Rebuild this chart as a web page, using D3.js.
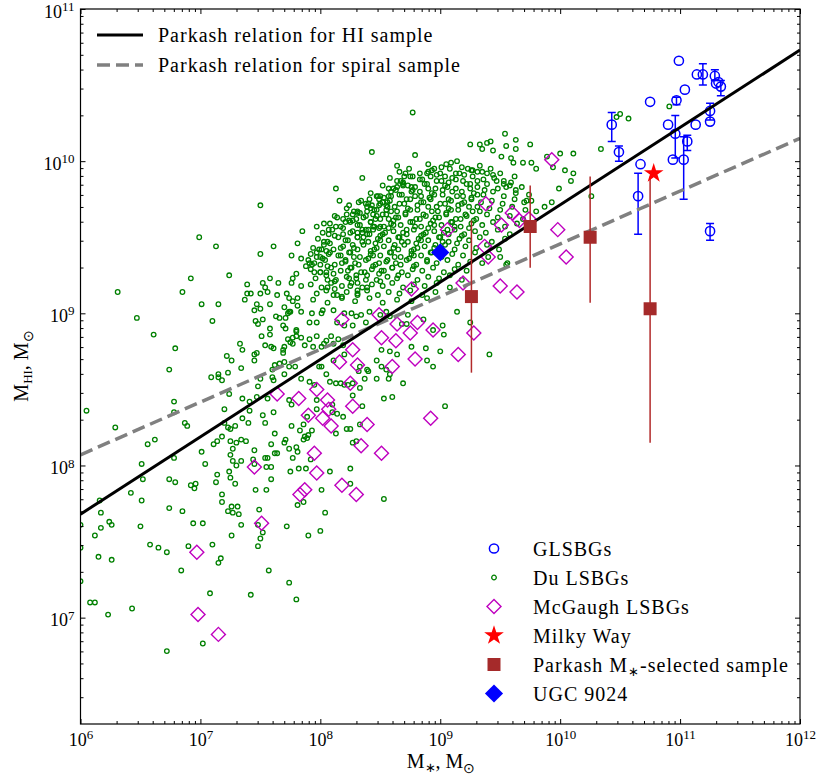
<!DOCTYPE html>
<html>
<head>
<meta charset="utf-8">
<script src="https://cdn.jsdelivr.net/npm/d3@7"></script>
<style>
  body { margin: 0; background: #fff; }
  svg text { font-family: "Liberation Serif", "Times New Roman", serif; fill: #000; }
</style>
</head>
<body>
<div id="chart"></div>
<script>
// values are log10(M*/Msun), log10(MHI/Msun)
const duLSBGs = [
  [6.99,9.50],[7.13,9.44],[7.61,9.44],[7.50,9.39],[7.76,9.38],[7.81,9.46],[7.24,9.25],[6.92,9.23],[6.31,9.14],[6.85,9.14],
  [7.01,9.06],[7.15,9.06],[6.47,8.97],[7.10,8.95],[6.61,8.86],[6.79,8.77],[6.74,8.63],[6.05,8.36],[6.78,8.42],[6.78,8.35],
  [6.29,8.25],[6.87,8.28],[6.89,8.26],[6.56,8.14],[6.62,8.17],[7.01,8.09],
  [7.39,9.19],[7.52,9.20],[7.54,9.17],[7.58,9.23],[7.65,9.20],[7.77,9.23],[7.80,9.26],[7.76,9.20],[7.39,9.13],[7.42,9.13],
  [7.37,9.09],[7.50,9.13],[7.56,9.14],[7.64,9.12],[7.72,9.13],[7.74,9.10],[7.81,9.10],[7.77,9.08],[7.47,9.06],[7.45,9.02],
  [7.50,9.03],[7.58,9.06],[7.70,9.04],[7.74,9.01],[7.81,9.05],[7.63,8.98],[7.66,8.97],[7.71,8.97],[7.73,9.00],[7.46,8.95],
  [7.52,8.96],[7.48,8.93],[7.58,8.90],[7.58,8.86],[7.51,8.85],[7.69,8.92],[7.71,8.90],[7.80,8.88],[7.80,8.85],[7.77,8.80],
  [7.73,8.83],[7.75,8.81],[7.54,8.79],[7.59,8.78],[7.61,8.77],[7.33,8.80],[7.35,8.76],[7.22,8.72],[7.26,8.69],[7.45,8.73],
  [7.47,8.74],[7.45,8.69],[7.69,8.76],[7.69,8.74],[7.70,8.78],[7.34,8.64],[7.23,8.61],[7.15,8.60],[7.09,8.58],[7.18,8.56],
  [7.15,8.58],[7.60,8.63],[7.62,8.66],[7.66,8.67],[7.70,8.68],[7.60,8.58],[7.70,8.60],[7.74,8.65],[7.79,8.65],[7.50,8.57],
  [7.48,8.52],[7.61,8.56],[7.24,8.47],[7.35,8.44],[7.41,8.42],[7.47,8.45],[7.56,8.44],[7.61,8.35],[7.52,8.33],[7.54,8.28],
  [7.74,8.43],[7.76,8.40],[7.41,8.36],[7.35,8.31],[7.40,8.28],[7.20,8.37],[7.20,8.28],[7.23,8.25],[7.29,8.26],[7.25,8.24],
  [7.76,8.26],[7.83,8.23],[7.62,8.21],[7.71,8.17],[7.70,8.15],[7.59,8.14],[7.62,8.08],[7.64,8.08],[7.18,8.19],[7.14,8.16],
  [7.11,8.14],[7.25,8.16],[7.30,8.15],[7.34,8.17],[7.38,8.16],[7.27,8.11],[7.25,8.07],[7.45,8.10],[7.54,8.05],[7.74,8.11],
  [7.80,8.12],[7.81,8.09],[7.77,8.05],
  [7.27,8.03],[7.34,8.03],[7.30,8.00],[7.44,8.04],[7.45,8.01],[7.55,7.99],[7.59,7.99],[7.56,8.05],[7.92,8.04],[7.75,7.96],
  [7.82,7.98],[7.88,7.98],[8.08,7.96],[6.51,8.01],[6.78,8.05],[7.04,8.01],[7.14,7.94],[7.24,7.96],[7.25,7.92],[7.13,7.89],
  [7.29,7.88],[6.74,7.91],[6.79,7.89],[6.52,7.91],[6.92,7.87],[6.96,7.88],[6.95,7.85],[6.42,7.82],[6.51,7.77],[6.16,7.77],
  [7.18,7.81],[7.18,7.76],[7.46,7.84],[7.55,7.84],[7.59,7.91],[8.01,7.84],[7.86,7.76],[7.81,7.74],[6.74,7.72],[6.85,7.70],
  [6.17,7.69],[6.24,7.63],[6.26,7.61],[6.00,7.61],[6.17,7.59],[6.12,7.54],[6.50,7.60],[6.94,7.62],[7.02,7.62],[7.26,7.73],
  [7.31,7.73],[7.23,7.70],[7.27,7.69],[7.32,7.68],[7.34,7.61],[7.49,7.71],[7.48,7.61],[8.04,7.69],[8.00,7.57],[7.90,7.54],
  [7.72,7.60],[7.26,7.54],[7.52,7.56],[7.50,7.52],[7.48,7.47],[6.58,7.48],[6.65,7.46],[6.72,7.43],[6.90,7.47],[7.10,7.48],
  [6.15,7.40],[6.26,7.38],[7.17,7.39],[7.15,7.36],[6.84,7.31],[6.00,7.24],[7.57,7.31],[6.08,7.10],[6.12,7.10],[6.23,7.02],
  [6.43,7.06],[7.08,7.16],[7.42,7.15],[7.74,7.23],[7.80,7.12],[7.02,6.83],[6.72,6.78],[6.00,7.46],
  [8.43,10.06],[8.35,9.89],[8.13,9.82],[7.50,9.71],[8.16,9.74],[8.24,9.71],[8.34,9.74],[8.40,9.72],[8.48,9.77],[8.49,9.75],
  [8.49,9.71],[8.57,9.77],[8.12,9.64],[8.27,9.65],[8.31,9.66],[8.21,9.60],[8.27,9.61],[8.39,9.67],[8.42,9.69],[8.44,9.65],
  [8.47,9.64],[8.55,9.68],[8.57,9.62],[8.53,9.57],[8.49,9.56],[8.44,9.57],[8.40,9.55],[8.35,9.55],[8.31,9.53],[8.36,9.50],
  [8.41,9.52],[7.85,9.54],[7.97,9.57],[8.03,9.59],[8.07,9.55],[7.84,9.36],[7.97,9.40],[8.01,9.42],[8.07,9.39],[7.90,9.35],
  [7.91,9.33],[7.88,9.31],[7.93,9.32],[8.00,9.27],[7.95,9.27],[7.84,9.18],
  [9.54,10.18],[9.63,10.14],[9.75,10.11],[9.25,10.11],[9.33,10.11],[9.39,10.12],[9.42,10.13],[9.35,10.08],[9.44,10.07],[9.55,10.10],
  [9.63,10.08],[9.51,10.03],[9.59,10.02],[9.61,9.99],[9.69,9.99],[9.76,9.99],[9.80,9.95],[9.89,10.03],[10.00,10.05],[10.11,10.05],
  [9.94,9.96],[10.04,9.94],[10.11,9.92],[10.09,9.87],[9.99,9.82],[9.93,9.73],[9.87,9.70],[9.80,9.67],[9.76,9.74],[9.72,9.74],
  [9.63,9.81],[9.55,9.83],[9.59,9.86],[9.53,9.85],[9.47,9.87],[9.44,9.91],[9.39,9.92],[9.33,9.97],[9.27,9.94],[9.23,9.95],
  [9.18,9.96],[9.14,10.00],[9.09,9.99],[9.05,9.98],[9.01,9.96],[8.95,9.95],[8.90,9.98],[8.89,9.92],[8.79,10.04],[8.64,9.97],
  [8.70,9.90],[8.73,9.84],[8.77,9.81],[8.69,9.84],[8.64,9.83],[8.59,9.77],[8.55,9.71],[8.52,9.73],
  [8.66,9.93],[8.74,9.95],[8.83,9.92],[8.93,9.94],[9.00,9.92],[9.08,9.95],[9.16,9.92],[9.26,9.94],[9.35,9.93],[9.42,9.95],[9.50,9.92],
  [8.58,9.89],[8.67,9.87],[8.75,9.90],[8.85,9.88],[8.92,9.90],[9.01,9.87],[9.10,9.89],[9.19,9.87],[9.27,9.90],[9.36,9.88],[9.45,9.89],[9.53,9.87],[9.62,9.90],
  [8.52,9.84],[8.61,9.82],[8.69,9.85],[8.79,9.83],[8.87,9.85],[8.96,9.82],[9.04,9.84],[9.13,9.82],[9.22,9.85],[9.31,9.83],[9.39,9.85],[9.48,9.82],[9.58,9.84],[9.68,9.83],
  [8.42,9.79],[8.50,9.77],[8.59,9.80],[8.68,9.78],[8.76,9.80],[8.84,9.77],[8.93,9.79],[9.02,9.78],[9.10,9.80],[9.19,9.77],[9.28,9.79],[9.36,9.78],[9.44,9.80],[9.53,9.77],[9.63,9.79],[9.74,9.78],
  [8.32,9.73],[8.41,9.75],[8.50,9.72],[8.58,9.74],[8.66,9.72],[8.75,9.75],[8.84,9.73],[8.92,9.75],[9.00,9.72],[9.09,9.74],[9.18,9.72],[9.26,9.75],[9.34,9.73],[9.43,9.74],[9.52,9.72],[9.62,9.75],[9.70,9.73],
  [8.22,9.69],[8.31,9.67],[8.39,9.70],[8.47,9.68],[8.56,9.70],[8.64,9.67],[8.73,9.69],[8.81,9.68],[8.90,9.70],[8.98,9.67],[9.07,9.69],[9.15,9.68],[9.24,9.70],[9.33,9.67],[9.41,9.69],[9.50,9.68],[9.60,9.70],[9.71,9.68],
  [8.14,9.63],[8.22,9.65],[8.30,9.62],[8.38,9.64],[8.46,9.62],[8.55,9.65],[8.63,9.63],[8.71,9.65],[8.80,9.62],[8.88,9.64],[8.96,9.63],[9.05,9.65],[9.13,9.62],[9.22,9.64],[9.30,9.62],[9.39,9.65],[9.48,9.63],[9.58,9.64],[9.69,9.62],
  [8.08,9.59],[8.17,9.57],[8.25,9.60],[8.33,9.58],[8.42,9.60],[8.50,9.57],[8.59,9.59],[8.67,9.58],[8.75,9.60],[8.84,9.57],[8.92,9.59],[9.01,9.58],[9.09,9.60],[9.17,9.57],[9.26,9.59],[9.35,9.58],[9.44,9.60],[9.54,9.57],[9.64,9.59],
  [8.02,9.53],[8.10,9.55],[8.19,9.52],[8.27,9.54],[8.35,9.53],[8.44,9.55],[8.52,9.52],[8.61,9.54],[8.69,9.53],[8.78,9.55],[8.86,9.52],[8.95,9.54],[9.03,9.53],[9.12,9.55],[9.20,9.52],[9.29,9.54],[9.38,9.53],[9.48,9.55],[9.58,9.52],
  [7.98,9.49],[8.06,9.47],[8.15,9.50],[8.23,9.48],[8.31,9.50],[8.40,9.47],[8.48,9.49],[8.57,9.48],[8.65,9.50],[8.73,9.47],[8.82,9.49],[8.90,9.48],[8.99,9.50],[9.07,9.47],[9.16,9.49],[9.24,9.48],[9.33,9.50],[9.43,9.47],[9.54,9.49],
  [7.94,9.43],[8.03,9.45],[8.11,9.42],[8.19,9.44],[8.28,9.43],[8.36,9.45],[8.45,9.42],[8.53,9.44],[8.61,9.43],[8.70,9.45],[8.78,9.42],[8.87,9.44],[8.95,9.43],[9.04,9.45],[9.12,9.42],[9.21,9.44],[9.30,9.43],[9.39,9.45],[9.49,9.42],
  [7.92,9.39],[8.00,9.37],[8.08,9.40],[8.17,9.38],[8.25,9.40],[8.33,9.37],[8.42,9.39],[8.50,9.38],[8.59,9.40],[8.67,9.37],[8.76,9.39],[8.84,9.38],[8.93,9.40],[9.01,9.37],[9.10,9.39],[9.19,9.38],[9.29,9.40],[9.40,9.37],
  [7.95,9.33],[8.04,9.35],[8.12,9.32],[8.21,9.34],[8.29,9.33],[8.38,9.35],[8.46,9.32],[8.55,9.34],[8.63,9.33],[8.72,9.35],[8.80,9.32],[8.89,9.34],[8.97,9.33],[9.06,9.35],[9.15,9.32],[9.25,9.34],[9.35,9.33],
  [7.92,9.29],[8.00,9.27],[8.09,9.30],[8.17,9.28],[8.26,9.30],[8.34,9.27],[8.43,9.29],[8.51,9.28],[8.60,9.30],[8.68,9.27],[8.77,9.29],[8.85,9.28],[8.94,9.30],[9.03,9.27],[9.12,9.29],[9.22,9.28],
  [7.96,9.23],[8.05,9.25],[8.13,9.22],[8.22,9.24],[8.30,9.23],[8.39,9.25],[8.47,9.22],[8.56,9.24],[8.64,9.23],[8.73,9.25],[8.81,9.22],[8.90,9.24],[8.99,9.23],[9.08,9.25],[9.18,9.22],
  [7.92,9.19],[8.01,9.17],[8.09,9.20],[8.18,9.18],[8.26,9.20],[8.35,9.17],[8.43,9.19],[8.52,9.18],[8.60,9.20],[8.69,9.17],[8.78,9.19],[8.87,9.18],[8.97,9.20],[9.08,9.17],
  [7.97,9.13],[8.05,9.15],[8.14,9.12],[8.22,9.14],[8.31,9.13],[8.39,9.15],[8.48,9.12],[8.57,9.14],[8.66,9.13],[8.75,9.15],[8.85,9.12],[8.96,9.14],
  [7.94,9.09],[8.06,9.07],[8.18,9.10],[8.29,9.08],[8.41,9.10],[8.52,9.07],[8.64,9.09],[8.76,9.08],[8.89,9.10],
  [8.71,9.92],[8.77,9.90],[8.90,9.93],[8.97,9.91],[9.04,9.90],[9.13,9.92],[9.20,9.91],[9.31,9.93],
  [8.64,9.87],[8.69,9.86],[8.83,9.88],[8.89,9.85],[8.97,9.87],[9.07,9.86],[9.13,9.88],[9.25,9.85],[9.31,9.87],
  [8.57,9.82],[8.63,9.81],[8.76,9.83],[8.83,9.80],[8.90,9.82],[9.02,9.81],[9.06,9.83],[9.18,9.80],[9.25,9.82],[9.37,9.81],
  [8.47,9.77],[8.53,9.76],[8.66,9.78],[8.72,9.75],[8.79,9.77],[8.91,9.76],[8.95,9.78],[9.07,9.75],[9.14,9.77],[9.26,9.76],[9.31,9.78],
  [8.38,9.72],[8.43,9.71],[8.56,9.73],[8.62,9.70],[8.70,9.72],[8.81,9.71],[8.86,9.73],[8.97,9.70],[9.04,9.72],[9.15,9.71],[9.20,9.73],[9.31,9.70],
  [8.28,9.67],[8.33,9.66],[8.45,9.68],[8.52,9.65],[8.59,9.67],[8.71,9.66],[8.75,9.68],[8.86,9.65],[8.93,9.67],[9.05,9.66],[9.09,9.68],[9.21,9.65],[9.27,9.67],
  [8.19,9.62],[8.24,9.61],[8.36,9.63],[8.42,9.60],[8.50,9.62],[8.61,9.61],[8.65,9.63],[8.77,9.60],[8.83,9.62],[8.94,9.61],[8.99,9.63],[9.10,9.60],[9.17,9.62],[9.28,9.61],
  [8.13,9.57],[8.19,9.56],[8.31,9.58],[8.38,9.55],[8.45,9.57],[8.57,9.56],[8.61,9.58],[8.72,9.55],[8.79,9.57],[8.90,9.56],[8.95,9.58],[9.06,9.55],[9.12,9.57],[9.24,9.56],
  [8.07,9.52],[8.12,9.51],[8.25,9.53],[8.31,9.50],[8.39,9.52],[8.50,9.51],[8.54,9.53],[8.66,9.50],[8.72,9.52],[8.84,9.51],[8.88,9.53],[9.00,9.50],[9.07,9.52],[9.18,9.51],
  [8.03,9.47],[8.08,9.46],[8.21,9.48],[8.27,9.45],[8.35,9.47],[8.46,9.46],[8.50,9.48],[8.62,9.45],[8.68,9.47],[8.80,9.46],[8.84,9.48],[8.96,9.45],[9.02,9.47],[9.14,9.46],
  [7.99,9.42],[8.05,9.41],[8.17,9.43],[8.24,9.40],[8.31,9.42],[8.42,9.41],[8.47,9.43],[8.58,9.40],[8.65,9.42],[8.76,9.41],[8.81,9.43],[8.92,9.40],[8.99,9.42],
  [7.97,9.37],[8.02,9.36],[8.15,9.38],[8.21,9.35],[8.28,9.37],[8.40,9.36],[8.44,9.38],[8.56,9.35],[8.62,9.37],[8.74,9.36],[8.78,9.38],[8.89,9.35],
  [8.00,9.32],[8.06,9.31],[8.18,9.33],[8.25,9.30],[8.32,9.32],[8.44,9.31],[8.49,9.33],[8.60,9.30],[8.67,9.32],[8.78,9.31],
  [8.05,9.27],[8.11,9.26],[8.23,9.28],[8.30,9.25],[8.37,9.27],[8.49,9.26],[8.53,9.28],[8.65,9.25],
  [8.06,9.22],[8.12,9.21],[8.24,9.23],[8.31,9.20],[8.38,9.22],[8.50,9.21],
  [8.06,9.17],[8.12,9.16],[8.25,9.18],[8.31,9.15],[8.39,9.17],
  [8.11,9.12],[8.18,9.11],[8.31,9.12],
  [7.75,9.01],[7.84,9.01],[7.93,9.00],[8.01,9.00],[8.02,9.02],[8.11,9.02],[8.20,9.00],[8.26,9.00],[8.30,8.98],[8.34,8.99],
  [8.41,9.01],[8.55,9.01],[8.50,8.99],[8.58,8.98],[7.91,8.94],[7.97,8.94],[8.14,8.94],[8.20,8.92],[8.27,8.92],[8.38,8.94],
  [7.80,8.89],[7.77,8.84],[7.84,8.84],[7.91,8.83],[7.97,8.85],[8.05,8.82],[8.09,8.85],[8.15,8.83],
  [8.03,8.80],[8.11,8.80],[8.19,8.79],[8.01,8.78],[7.94,8.78],[7.87,8.79],
  [9.02,8.92],[9.03,8.86],[8.94,8.89],[8.86,8.96],[8.73,8.99],[8.68,8.93],[8.72,8.93],[9.14,9.01],[9.25,8.94],
  [8.51,8.76],[8.58,8.75],[8.64,8.73],[8.76,8.78],[8.88,8.77],[9.00,8.75],[8.89,8.69],[8.94,8.65],[9.41,8.73],[8.47,8.69],
  [8.51,8.65],[8.55,8.63],[8.39,8.63],[8.40,8.62],[8.37,8.57],[8.47,8.57],[8.57,8.57],[8.58,8.60],[8.33,8.65],[8.32,8.62],
  [8.20,8.73],[8.11,8.69],[8.01,8.65],[7.99,8.65],[8.05,8.60],[8.08,8.55],[8.13,8.54],[8.17,8.54],[8.20,8.53],[8.23,8.53],
  [8.27,8.54],[8.33,8.51],[7.91,8.55],[7.84,8.57],[7.95,8.53],[8.27,8.46],[8.35,8.39],[8.33,8.27],[8.27,8.15],[8.30,8.16],
  [8.53,8.44],[8.60,8.45],[8.69,8.54],[9.04,8.39],[8.25,8.24],[8.13,8.21],[8.22,8.24],[8.19,8.32],[8.14,8.34],[8.10,8.35],
  [8.10,8.40],[7.97,8.43],[7.97,8.37],[7.89,8.32],[7.86,8.27],[7.87,8.19],[7.89,8.18],[7.90,8.20],[7.86,8.17],[7.93,8.23],
  [8.25,7.98],[8.53,7.78],[8.25,7.88],
  [9.50,9.37],[9.55,9.32],[9.56,9.33],
  [10.47,10.29],[10.50,10.31],[10.57,10.28],[10.34,10.08],[10.91,10.36],[10.26,9.77],[8.77,10.32]
];

const mcgaughLSBGs = [
  [7.45,7.99],[7.95,8.08],[7.97,7.95],[7.87,7.84],[7.83,7.81],[7.51,7.62],[6.97,7.43],[6.98,7.02],[7.15,6.89],[7.64,8.47],
  [7.82,8.44],[8.18,8.96],[8.49,8.99],[8.64,8.93],[8.81,8.94],[8.94,8.89],[8.75,8.87],[8.51,8.84],[8.63,8.82],[8.27,8.76],
  [8.16,8.68],[8.31,8.66],[8.79,8.70],[8.60,8.65],[9.15,8.73],[9.28,8.87],[8.25,8.54],[7.97,8.50],[8.06,8.43],[8.27,8.39],
  [7.90,8.33],[8.02,8.31],[8.07,8.37],[8.09,8.26],[8.39,8.27],[8.92,8.31],[8.34,8.13],[8.51,8.08],[8.18,7.87],[8.30,7.81],
  [9.38,9.72],[9.06,9.55],[9.60,9.66],[9.51,9.58],[9.66,9.61],[9.74,9.62],[9.93,10.01],[9.98,9.55],[10.05,9.37],[9.37,9.44],
  [9.40,9.37],[9.50,9.18],[9.64,9.14],[9.19,9.20],[8.76,9.16]
];

const glsbg = [
  [10.43,10.24],[10.49,10.06],[10.65,9.77],[10.67,9.98],[10.75,10.39],[10.99,10.66],[11.04,10.47],[10.97,10.40],
  [10.90,10.24],[10.96,10.18],[10.94,10.01],[11.03,10.01],[11.06,10.13],[11.13,10.24],[11.14,10.57],[11.19,10.57],
  [11.29,10.56],[11.30,10.51],[11.32,10.52],[11.34,10.49],[11.25,10.33],[11.25,10.26],[11.25,9.54]
];
// [log M*, low, high]
const glsbgErr = [
  [10.43,10.13,10.32],[10.49,10.00,10.10],[10.65,9.52,9.92],[10.97,10.37,10.42],[10.96,10.02,10.30],[11.03,9.75,10.16],
  [11.06,10.07,10.17],[11.19,10.50,10.64],[11.29,10.53,10.60],[11.34,10.43,10.53],[11.25,10.27,10.38],[11.25,9.48,9.59]
];

const parkashSample = [[9.26,9.11],[9.75,9.57],[10.25,9.50],[10.75,9.03]];
const parkashErr = [[9.26,8.61,9.61],[9.75,9.30,9.84],[10.25,9.07,9.90],[10.75,8.15,9.90]];

const milkyWay = [[10.78,9.92]];
const ugc9024 = [[9.00,9.40]];

// Parkash relations, end points over the plotted range
const hiRelation = [[6,7.68],[12,10.73]];
const spiralRelation = [[6,8.07],[12,10.15]];

const majorX = [1e6,1e7,1e8,1e9,1e10,1e11,1e12];
const majorY = [1e7,1e8,1e9,1e10,1e11];

const width = 823, height = 781;
const plotL = 80.5, plotR = 800, plotT = 9, plotB = 724;

const svg = d3.select("#chart").append("svg")
    .attr("width", width)
    .attr("height", height);

const x = d3.scaleLog().domain([1e6, 1e12]).range([plotL, plotR]);
const y = d3.scaleLog().domain([2e6, 1e11]).range([plotB, plotT]);
const px = d => x(10 ** d[0]);
const py = d => y(10 ** d[1]);

const minorX = [];
for (let e = 6; e < 12; e++) for (let m = 2; m < 10; m++) minorX.push(m * 10 ** e);
const minorY = [];
for (let e = 6; e < 11; e++) for (let m = 2; m < 10; m++) if (m * 10 ** e > 2e6) minorY.push(m * 10 ** e);

svg.append("clipPath").attr("id", "plot")
    .append("rect")
    .attr("x", plotL).attr("y", plotT)
    .attr("width", plotR - plotL).attr("height", plotB - plotT);

const g = svg.append("g").attr("clip-path", "url(#plot)");

// Du LSBGs
g.selectAll(".du")
    .data(duLSBGs)
    .join("circle")
    .attr("class", "du")
    .attr("cx", px).attr("cy", py)
    .attr("r", 2.3)
    .attr("fill", "none")
    .attr("stroke", "#008000")
    .attr("stroke-width", 1.3);

// McGaugh diamonds
const diamond = d3.symbol(d3.symbolSquare, 98);
g.selectAll(".mcg")
    .data(mcgaughLSBGs)
    .join("path")
    .attr("class", "mcg")
    .attr("d", diamond)
    .attr("transform", d => `translate(${px(d)},${py(d)}) rotate(45)`)
    .attr("fill", "none")
    .attr("stroke", "#bf00bf")
    .attr("stroke-width", 1.4);

// GLSBGs with error bars
const eb = g.selectAll(".gerr").data(glsbgErr).join("g").attr("class", "gerr")
    .attr("stroke", "#0000ff").attr("stroke-width", 1.5);
eb.append("line")
    .attr("x1", d => x(10 ** d[0])).attr("x2", d => x(10 ** d[0]))
    .attr("y1", d => y(10 ** d[1])).attr("y2", d => y(10 ** d[2]));
eb.append("line")
    .attr("x1", d => x(10 ** d[0]) - 4).attr("x2", d => x(10 ** d[0]) + 4)
    .attr("y1", d => y(10 ** d[1])).attr("y2", d => y(10 ** d[1]));
eb.append("line")
    .attr("x1", d => x(10 ** d[0]) - 4).attr("x2", d => x(10 ** d[0]) + 4)
    .attr("y1", d => y(10 ** d[2])).attr("y2", d => y(10 ** d[2]));

g.selectAll(".gl")
    .data(glsbg)
    .join("circle")
    .attr("class", "gl")
    .attr("cx", px).attr("cy", py)
    .attr("r", 4.6)
    .attr("fill", "none")
    .attr("stroke", "#0000ff")
    .attr("stroke-width", 1.5);

// Parkash relations
const line = d3.line().x(px).y(py);
g.append("path")
    .datum(spiralRelation)
    .attr("d", line)
    .attr("fill", "none")
    .attr("stroke", "#808080")
    .attr("stroke-width", 3.5)
    .attr("stroke-dasharray", "13,6");
g.append("path")
    .datum(hiRelation)
    .attr("d", line)
    .attr("fill", "none")
    .attr("stroke", "#000")
    .attr("stroke-width", 3);

// Parkash M*-selected sample
g.selectAll(".perr")
    .data(parkashErr)
    .join("line")
    .attr("class", "perr")
    .attr("x1", d => x(10 ** d[0])).attr("x2", d => x(10 ** d[0]))
    .attr("y1", d => y(10 ** d[1])).attr("y2", d => y(10 ** d[2]))
    .attr("stroke", "#b22a2a")
    .attr("stroke-width", 1.5);
g.selectAll(".psq")
    .data(parkashSample)
    .join("path")
    .attr("class", "psq")
    .attr("d", d3.symbol(d3.symbolSquare, 169))
    .attr("transform", d => `translate(${px(d)},${py(d)})`)
    .attr("fill", "#a52a2a");

// Milky Way
const star = d3.symbol(d3.symbolStar, 120);
g.selectAll(".mw")
    .data(milkyWay)
    .join("path")
    .attr("class", "mw")
    .attr("d", star)
    .attr("transform", d => `translate(${px(d)},${py(d)})`)
    .attr("fill", "#ff0000");

// UGC 9024
g.selectAll(".ugc")
    .data(ugc9024)
    .join("path")
    .attr("class", "ugc")
    .attr("d", d3.symbol(d3.symbolSquare, 165))
    .attr("transform", d => `translate(${px(d)},${py(d)}) rotate(45)`)
    .attr("fill", "#0000ff");

// Axes, ticks inward on all sides
function powerLabels(sel) {
    sel.selectAll(".tick text").each(function (d) {
        const t = d3.select(this);
        t.text("10");
        t.append("tspan")
            .attr("font-size", 13)
            .attr("dy", "-0.5em")
            .text(Math.round(Math.log10(d)));
    });
}

const axes = svg.append("g");
axes.append("g").attr("transform", `translate(0,${plotB})`)
    .call(d3.axisBottom(x).tickValues(minorX).tickSize(-3).tickFormat(""));
axes.append("g").attr("transform", `translate(0,${plotB})`)
    .call(d3.axisBottom(x).tickValues(majorX).tickSize(-5).tickPadding(9))
    .call(powerLabels);
axes.append("g").attr("transform", `translate(0,${plotT})`)
    .call(d3.axisTop(x).tickValues(minorX).tickSize(-3).tickFormat(""));
axes.append("g").attr("transform", `translate(0,${plotT})`)
    .call(d3.axisTop(x).tickValues(majorX).tickSize(-5).tickFormat(""));
axes.append("g").attr("transform", `translate(${plotL},0)`)
    .call(d3.axisLeft(y).tickValues(minorY).tickSize(-3).tickFormat(""));
axes.append("g").attr("transform", `translate(${plotL},0)`)
    .call(d3.axisLeft(y).tickValues(majorY).tickSize(-5).tickPadding(6))
    .call(powerLabels)
    .call(a => a.selectAll(".tick text").attr("dy", "0.45em"));
axes.append("g").attr("transform", `translate(${plotR},0)`)
    .call(d3.axisRight(y).tickValues(minorY).tickSize(-3).tickFormat(""));
axes.append("g").attr("transform", `translate(${plotR},0)`)
    .call(d3.axisRight(y).tickValues(majorY).tickSize(-5).tickFormat(""));

axes.selectAll(".domain").remove();
axes.selectAll("g").attr("font-family", null).attr("font-size", 18);
axes.selectAll(".tick line").attr("stroke", "#000").attr("stroke-width", 1);

svg.append("rect")
    .attr("x", plotL).attr("y", plotT)
    .attr("width", plotR - plotL).attr("height", plotB - plotT)
    .attr("fill", "none")
    .attr("stroke", "#000")
    .attr("stroke-width", 1.2);

// Axis labels
const xl = svg.append("text")
    .attr("x", 441).attr("y", 768)
    .attr("text-anchor", "middle")
    .attr("font-size", 20);
xl.append("tspan").text("M");
xl.append("tspan").attr("font-size", 13).attr("dy", 4).text("∗");
xl.append("tspan").attr("dy", -4).text(", M");
xl.append("tspan").attr("font-size", 14).attr("dy", 5).text("⊙");

const yl = svg.append("text")
    .attr("transform", "translate(28,366) rotate(-90)")
    .attr("text-anchor", "middle")
    .attr("font-size", 20);
yl.append("tspan").text("M");
yl.append("tspan").attr("font-size", 13).attr("dy", 4).text("HI");
yl.append("tspan").attr("dy", -4).text(", M");
yl.append("tspan").attr("font-size", 14).attr("dy", 5).text("⊙");

// Upper-left legend
const relLegend = [
    { label: "Parkash relation for HI sample", color: "#000", dash: null, w: 3 },
    { label: "Parkash relation for spiral sample", color: "#808080", dash: "13,6", w: 3.5 }
];
const lg1 = svg.append("g").selectAll("g").data(relLegend).join("g")
    .attr("transform", (d, i) => `translate(0,${35 + i * 30})`);
lg1.append("line")
    .attr("x1", 97).attr("x2", 143)
    .attr("stroke", d => d.color)
    .attr("stroke-width", d => d.w)
    .attr("stroke-dasharray", d => d.dash);
lg1.append("text")
    .attr("x", 158).attr("y", 7)
    .attr("font-size", 20)
    .attr("letter-spacing", 1)
    .text(d => d.label);

// Lower-right legend
const markerLegend = ["GLSBGs", "Du LSBGs", "McGaugh LSBGs", "Milky Way", "Parkash", "UGC 9024"];
const lg2 = svg.append("g").selectAll("g").data(markerLegend).join("g")
    .attr("transform", (d, i) => `translate(494,${548.5 + i * 29})`);
lg2.each(function (d, i) {
    const s = d3.select(this);
    if (i === 0) s.append("circle").attr("r", 4.6).attr("fill", "none").attr("stroke", "#0000ff").attr("stroke-width", 1.5);
    if (i === 1) s.append("circle").attr("r", 2.3).attr("fill", "none").attr("stroke", "#008000").attr("stroke-width", 1.3);
    if (i === 2) s.append("path").attr("d", diamond).attr("transform", "rotate(45)").attr("fill", "none").attr("stroke", "#bf00bf").attr("stroke-width", 1.4);
    if (i === 3) s.append("path").attr("d", star).attr("fill", "#ff0000");
    if (i === 4) s.append("path").attr("d", d3.symbol(d3.symbolSquare, 169)).attr("fill", "#a52a2a");
    if (i === 5) s.append("path").attr("d", d3.symbol(d3.symbolSquare, 165)).attr("transform", "rotate(45)").attr("fill", "#0000ff");
    const t = s.append("text").attr("x", 39).attr("y", 7.5).attr("font-size", 20).attr("letter-spacing", 1);
    if (d === "Parkash") {
        t.append("tspan").text("Parkash M");
        t.append("tspan").attr("font-size", 13).attr("dy", 4).text("∗");
        t.append("tspan").attr("dy", -4).text("-selected sample");
    } else {
        t.text(d);
    }
});
</script>
</body>
</html>
